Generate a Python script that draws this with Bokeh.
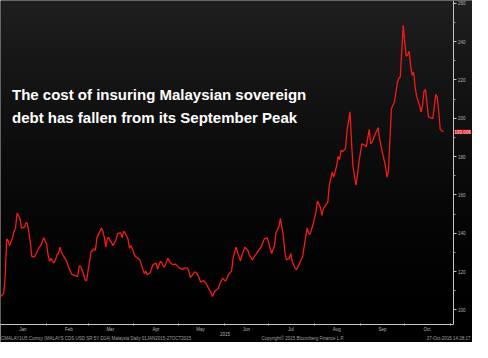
import numpy as np
import pandas as pd
from bokeh.plotting import figure
from bokeh.models import Range1d, FixedTicker, DatetimeTickFormatter, Label
from bokeh.embed import file_html
from bokeh.resources import INLINE

# ---------------- data ----------------
start_date = "2015-01-01"
days = [0, 2, 3, 4, 5, 6, 8, 9, 10, 11, 13, 14, 16, 17, 18, 20, 21, 23, 24, 26, 27, 28, 29, 31,
        32, 33, 34, 35, 36, 37, 38, 39, 40, 41, 42, 44, 45, 46, 48, 49, 51, 52, 53, 54, 56, 57,
        58, 59, 60, 61, 63, 64, 65, 66, 68, 69, 70, 71, 72, 73, 74, 75, 76, 78, 79, 81, 82, 83,
        84, 86, 87, 88, 89, 90, 91, 94, 95, 97, 98, 99, 101, 102, 103, 105, 106, 107, 108, 109,
        110, 111, 113, 114, 115, 116, 118, 120, 121, 123, 124, 126, 127, 128, 130, 131, 132,
        133, 134, 135, 137, 138, 139, 140, 142, 143, 144, 145, 147, 148, 150, 151, 152, 154,
        156, 157, 159, 161, 162, 163, 165, 167, 168, 170, 172, 174, 175, 176, 178, 180, 181,
        183, 185, 186, 188, 189, 191, 192, 193, 195, 196, 197, 199, 200, 202, 204, 205, 207,
        208, 209, 211, 213, 214, 216, 217, 218, 220, 221, 222, 224, 225, 227, 228, 229, 230,
        231, 233, 234, 236, 237, 238, 240, 241, 242, 244, 246, 247, 249, 250, 251, 253, 255,
        256, 258, 260, 261, 262, 264, 266, 267, 268, 269, 270, 271, 272, 273, 274, 275, 276,
        277, 278, 279, 280, 281, 283, 284, 285, 286, 287, 288, 289, 291, 292, 294, 295, 296,
        297, 299]
values = [107, 108.6, 117, 137, 136, 133.5, 137.7, 141, 142.7, 150.5, 147.7, 142.7, 143.2, 145.5,
          145.2, 135.2, 127.8, 127.8, 129.4, 132.7, 133.5, 135.5, 137.7, 134.4, 128.6, 125.3,
          126.9, 125.3, 124.4, 126.1, 128.6, 129.4, 132.7, 130.2, 128.6, 126.1, 124.4, 121.9,
          118.6, 118.1, 117.8, 117.3, 122.8, 122.8, 118.6, 115.6, 115.3, 120.3, 125.3, 130.2,
          131.9, 131.1, 137.7, 139.4, 142.7, 141, 137.7, 132.7, 137.2, 137.7, 136, 134.8, 133.5,
          136.9, 139.9, 140.2, 137.7, 141, 140.2, 136.9, 132.2, 133.5, 131.9, 129.4, 127.8, 126.1,
          123.6, 118.9, 120.3, 118.3, 119.4, 121.9, 123.6, 124.4, 121.1, 123.6, 125.3, 124.4,
          122.3, 122.8, 126.9, 125.3, 124.4, 123.6, 123.9, 122.3, 121.6, 121.1, 121.9, 121.9,
          120.6, 116.9, 118.6, 119.9, 119.4, 118.3, 116.9, 114.5, 115.3, 114.5, 113.6, 112, 109,
          107, 108.6, 110, 111.1, 113.6, 116.6, 115.6, 115, 118.6, 120.3, 126.9, 132.7, 127.8,
          125.6, 128.6, 132.7, 131.1, 128.6, 126.1, 128.6, 130.6, 131.9, 132.7, 136.9, 137.7,
          135.2, 129.4, 133.5, 140.2, 143.5, 147.7, 138.5, 130.2, 126.1, 126.9, 129.4, 125.3,
          121.6, 121.1, 124.4, 127.8, 132.7, 142.7, 140.2, 139.4, 144.4, 151, 156.8, 153.5,
          149.3, 152.7, 155.2, 156, 165, 171.8, 169.3, 175.1, 180.1, 178.5, 183.4, 182.6, 184.2,
          193.4, 203.4, 188.4, 175.1, 165.1, 170.1, 176.8, 186.7, 185.9, 185.1, 194.2, 186.7,
          187.6, 191.7, 195.1, 189.2, 181.8, 175.1, 169.3, 172.6, 205, 208.4, 213.4, 218.4,
          220.9, 221.6, 235, 248.6, 239.9, 232.4, 233.2, 235, 227.5, 222.5, 224.1, 216.6, 211.7,
          206.7, 203.4, 206.7, 214.2, 215, 208.4, 200.9, 200, 200, 212.5, 210.8, 203.4, 194.2,
          193.006]
last_value = 193.006
y_major = [100, 120, 140, 160, 180, 200, 220, 240, 260]
y_minor = [110, 130, 150, 170, 190, 210, 230, 250]
year_label = "2015"
title_lines = ["The cost of insuring Malaysian sovereign",
               "debt has fallen from its September Peak"]
footer_left = "CMALAY1U5 Curncy (MALAYS CDS USD SR 5Y D14) Malaysia  Daily 01JAN2015-27OCT2015"
footer_mid = "Copyright\u00a9 2015 Bloomberg Finance L.P."
footer_right = "27-Oct-2015 14:28:17"

# ---------------- helpers ----------------
start = pd.Timestamp(start_date)
dates = start + pd.to_timedelta(days, unit="D")


def ms(t):
    return pd.Timestamp(t).value / 1e6


month_starts = pd.date_range("2015-01-01", "2015-11-01", freq="MS")
month_mids = month_starts[:-1] + pd.Timedelta(days=15)

# plot area: the axes sit inside the frame (fixed locations) so that the
# footer texts and the last-value tag are drawn without being clipped
x_lo = ms(start - pd.Timedelta(hours=4))
x_axis_at = ms(start + pd.Timedelta(days=305.7))
x_hi = ms(start + pd.Timedelta(days=318.8))
y_axis_at = 92.5
y_top = 261.5
y_lo = 82.95

p = figure(width=472, height=342, x_axis_type="datetime", y_axis_location="right",
           x_range=Range1d(x_lo, x_hi), y_range=Range1d(y_lo, y_top),
           output_backend="svg", toolbar_location=None,
           min_border_left=0, min_border_top=0, min_border_right=0, min_border_bottom=0)
p.background_fill_color = "#000000"
p.border_fill_color = "#000000"
p.outline_line_color = None
p.xgrid.visible = False
p.ygrid.visible = False

# vertical background gradient (bottom black -> top dark grey)
n = 256
g = np.linspace(0.0, 1.0, n)
lum = (31 * g ** 1.4).astype(np.uint8)
img = np.zeros((n, 1), dtype=np.uint32)
view = img.view(dtype=np.uint8).reshape((n, 1, 4))
view[:, 0, 0] = lum
view[:, 0, 1] = lum
view[:, 0, 2] = lum
view[:, 0, 3] = 255
p.image_rgba(image=[img], x=x_lo, y=y_axis_at, dw=x_hi - x_lo, dh=y_top - y_axis_at)

p.line(dates, values, line_color="#f41a1a", line_width=1.3)

small_font = "Liberation Sans"
small_size = "4.5px"
grey = "#b4b4b4"

xa = p.xaxis[0]
xa.fixed_location = y_axis_at
xa.bounds = (x_lo, x_axis_at)
xa.ticker = FixedTicker(ticks=[ms(t) for t in month_mids],
                        minor_ticks=[ms(t) for t in month_starts])
fmt = "%b"
xa.formatter = DatetimeTickFormatter(microseconds=fmt, milliseconds=fmt, seconds=fmt,
                                     minsec=fmt, minutes=fmt, hourmin=fmt, hours=fmt,
                                     days=fmt, months=fmt, years=fmt)
xa.axis_line_color = "#c4c4c4"
xa.major_tick_line_color = None
xa.major_tick_out = 0
xa.major_tick_in = 0
xa.minor_tick_line_color = "#bdbdbd"
xa.minor_tick_in = 1
xa.minor_tick_out = 1
xa.major_label_standoff = 2
xa.major_label_text_font = small_font
xa.major_label_text_font_size = small_size
xa.major_label_text_color = grey

ya = p.yaxis[0]
ya.fixed_location = x_axis_at
ya.bounds = (y_axis_at, y_top)
ya.ticker = FixedTicker(ticks=y_major, minor_ticks=y_minor)
ya.axis_line_color = "#c4c4c4"
ya.major_tick_line_color = "#c4c4c4"
ya.minor_tick_line_color = "#9a9a9a"
ya.major_tick_out = 3
ya.major_tick_in = 0
ya.minor_tick_out = 2
ya.minor_tick_in = 0
ya.major_label_standoff = 2
ya.major_label_text_font = small_font
ya.major_label_text_font_size = small_size
ya.major_label_text_color = grey

# last value tag
p.add_layout(Label(x=x_axis_at, y=last_value, x_offset=1.5, text=f"{last_value:.3f}",
                   text_font=small_font, text_font_size=small_size, text_color="#ffe0e0",
                   text_baseline="middle", background_fill_color="#ee1c1c"))

# title overlay
for i, (line, off) in enumerate(zip(title_lines, [93.6, 116.5])):
    p.add_layout(Label(x=11.5, x_units="screen", y=y_top, y_offset=-off, text=line,
                       text_font="Liberation Sans", text_font_style="bold",
                       text_font_size="15px", text_color="#ffffff",
                       text_baseline="alphabetic"))

# year label and footers
mid_year = start + pd.Timedelta(days=151.5)
p.add_layout(Label(x=ms(mid_year), y=y_axis_at, y_offset=-9.6, text=year_label,
                   text_font=small_font, text_font_size=small_size, text_color=grey,
                   text_align="center", text_baseline="middle"))
p.add_layout(Label(x=0.5, x_units="screen", y=y_axis_at, y_offset=-14.4, text=footer_left,
                   text_font=small_font, text_font_size=small_size, text_color="#a0a0a0",
                   text_baseline="middle"))
p.add_layout(Label(x=261, x_units="screen", y=y_axis_at, y_offset=-14.4, text=footer_mid,
                   text_font=small_font, text_font_size=small_size, text_color="#a0a0a0",
                   text_baseline="middle"))
p.add_layout(Label(x=470, x_units="screen", y=y_axis_at, y_offset=-14.4, text=footer_right,
                   text_font=small_font, text_font_size=small_size, text_color="#a0a0a0",
                   text_align="right", text_baseline="middle"))

open("out.html", "w").write(file_html(p, INLINE))
